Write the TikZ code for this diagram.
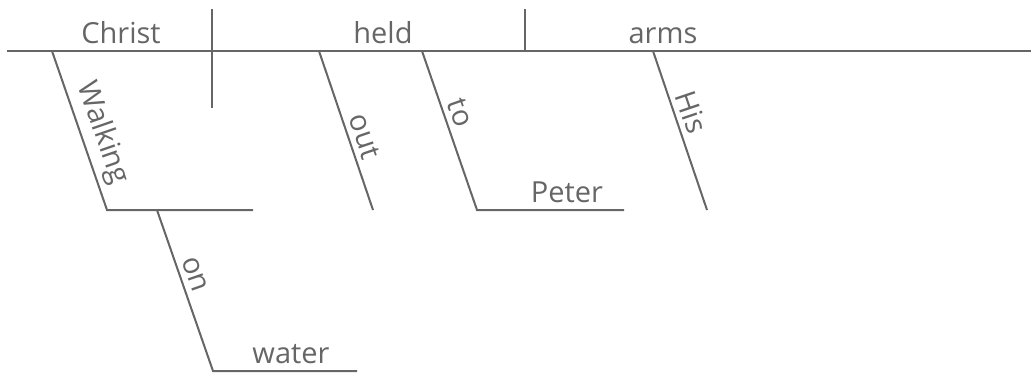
\documentclass[tikz,border=0pt]{standalone}
\usepackage{fontspec}
\setmainfont{Open Sans}
\definecolor{dg}{HTML}{666666}
\begin{document}
\begin{tikzpicture}[x=1pt,y=-1pt,
  ln/.style={draw=dg, line width=2pt},
  wd/.style={text=dg, font=\fontsize{29}{30}\selectfont, inner sep=0pt},
  sl/.style={wd, sloped, anchor=south, inner ysep=6pt}]
\useasboundingbox (0,0) rectangle (1031,373);
% coordinates
\coordinate (m0) at (7,51);   \coordinate (m1) at (1031,51);
\coordinate (d0) at (212,9);  \coordinate (d1) at (212,108);
\coordinate (v0) at (525,9);  \coordinate (v1) at (525,51);
\coordinate (wk0) at (52,51); \coordinate (wk1) at (107,210); \coordinate (wk2) at (253,210);
\coordinate (on0) at (157,210); \coordinate (on1) at (213,371); \coordinate (on2) at (357,371);
\coordinate (out0) at (319,51); \coordinate (out1) at (373,210);
\coordinate (to0) at (422,51); \coordinate (to1) at (477,210); \coordinate (to2) at (624,210);
\coordinate (his0) at (653,51); \coordinate (his1) at (707,210);
% lines
\draw[ln] (m0) -- (m1);
\draw[ln] (d0) -- (d1);
\draw[ln] (v0) -- (v1);
\draw[ln] (wk0) -- (wk1) -- (wk2);
\draw[ln] (on0) -- (on1) -- (on2);
\draw[ln] (out0) -- (out1);
\draw[ln] (to0) -- (to1) -- (to2);
\draw[ln] (his0) -- (his1);
% words
\node[wd, anchor=base] (christ) at (121,43) {Christ};
\node[wd, anchor=base] (held) at (383,43) {held};
\node[wd, anchor=base] (arms) at (663,43) {arms};
\node[wd, anchor=base] (peter) at (567,202) {Peter};
\node[wd, anchor=base] (water) at (291,363) {water};
\path (wk0) -- (wk1) node[sl, pos=0.56] (walking) {Walking};
\path (out0) -- (out1) node[sl, pos=0.57] (out) {out};
\path (to0) -- (to1) node[sl, pos=0.42] (to) {to};
\path (his0) -- (his1) node[sl, pos=0.42] (his) {His};
\path (on0) -- (on1) node[sl, pos=0.43] (on) {on};
\end{tikzpicture}
\end{document}
